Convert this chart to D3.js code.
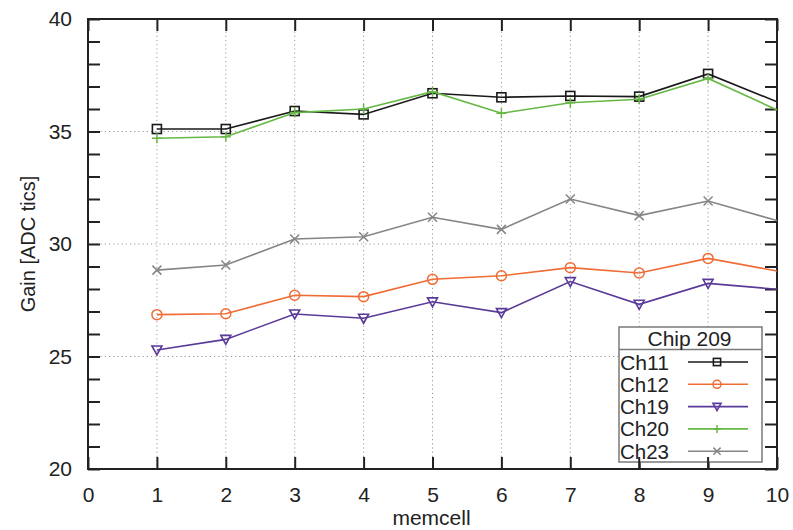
<!DOCTYPE html>
<html>
<head>
<meta charset="utf-8">
<script src="https://cdn.jsdelivr.net/npm/d3@7"></script>
<style>
  body { margin: 0; background: #fff; }
  text { font-family: "Liberation Sans", Arial, sans-serif; fill: #222; }
</style>
</head>
<body>
<div id="holder"></div>
<script>
const w = 793;
const h = 530;

// DATA
const memcell = [1, 2, 3, 4, 5, 6, 7, 8, 9, 10];
const ch11 = [35.11, 35.11, 35.91, 35.76, 36.70, 36.52, 36.58, 36.55, 37.56, 36.32];
const ch12 = [26.86, 26.90, 27.72, 27.66, 28.43, 28.59, 28.95, 28.71, 29.36, 28.80];
const ch19 = [25.29, 25.76, 26.89, 26.70, 27.43, 26.95, 28.33, 27.32, 28.25, 27.99];
const ch20 = [34.70, 34.77, 35.84, 36.00, 36.77, 35.81, 36.28, 36.43, 37.36, 35.96];
const ch23 = [28.84, 29.07, 30.22, 30.32, 31.19, 30.65, 32.00, 31.26, 31.91, 31.04];
const xTicks = [0, 1, 2, 3, 4, 5, 6, 7, 8, 9, 10];
const yTicks = [20, 25, 30, 35, 40];
const legendTitle = "Chip 209";

const series = [
  { name: "Ch11", values: ch11, color: "#1a1a1a", marker: "square" },
  { name: "Ch12", values: ch12, color: "#ef6c35", marker: "circle" },
  { name: "Ch19", values: ch19, color: "#5a3a98", marker: "triangle" },
  { name: "Ch20", values: ch20, color: "#66b845", marker: "plus" },
  { name: "Ch23", values: ch23, color: "#858585", marker: "cross" }
];

// SCALES
const x = d3.scaleLinear().domain([0, 10]).range([88, 777]);
const y = d3.scaleLinear().domain([20, 40]).range([469, 19]);

const svg = d3.select("#holder")
    .append("svg")
    .attr("width", w)
    .attr("height", h);

svg.append("defs").append("clipPath")
    .attr("id", "plot-clip")
    .append("rect")
    .attr("x", x(0)).attr("y", y(40))
    .attr("width", x(10) - x(0)).attr("height", y(20) - y(40));

// GRID
const grid = svg.append("g")
    .attr("stroke", "#9a9a9a")
    .attr("stroke-width", 1)
    .attr("stroke-dasharray", "1.2,3");

grid.selectAll(".vg")
    .data(xTicks.filter(d => d > 0 && d < 10))
    .enter().append("line")
    .attr("x1", d => x(d)).attr("x2", d => x(d))
    .attr("y1", y(40)).attr("y2", y(20));

grid.selectAll(".hg")
    .data(yTicks.filter(d => d > 20 && d < 40))
    .enter().append("line")
    .attr("x1", x(0)).attr("x2", x(10))
    .attr("y1", d => y(d)).attr("y2", d => y(d));

// AXES
const tickLen = 12;
const minorY = d3.range(20, 40.01, 1);

const axisG = svg.append("g");

axisG.append("g")
    .attr("transform", `translate(0,${y(20)})`)
    .call(d3.axisBottom(x).tickValues(xTicks).tickSize(-tickLen).tickPadding(18).tickFormat(d3.format("d")));

axisG.append("g")
    .attr("transform", `translate(0,${y(40)})`)
    .call(d3.axisTop(x).tickValues(xTicks).tickSize(-tickLen).tickFormat(""));

axisG.append("g")
    .attr("transform", `translate(${x(0)},0)`)
    .call(d3.axisLeft(y).tickValues(minorY).tickSize(-tickLen).tickPadding(16)
        .tickFormat(d => d % 5 === 0 ? d : ""));

axisG.append("g")
    .attr("transform", `translate(${x(10)},0)`)
    .call(d3.axisRight(y).tickValues(minorY).tickSize(-tickLen).tickFormat(""));

axisG.selectAll(".domain").remove();
axisG.selectAll(".tick line").attr("stroke", "#222").attr("stroke-width", 2);
axisG.selectAll(".tick text").attr("font-size", 21).attr("fill", "#222");

// frame
svg.append("rect")
    .attr("x", x(0)).attr("y", y(40))
    .attr("width", x(10) - x(0)).attr("height", y(20) - y(40))
    .attr("fill", "none").attr("stroke", "#222").attr("stroke-width", 2);

// axis titles
svg.append("text")
    .attr("x", (x(0) + x(10)) / 2 - 1)
    .attr("y", 525)
    .attr("text-anchor", "middle")
    .attr("font-size", 21)
    .text("memcell");

svg.append("text")
    .attr("transform", `translate(35,${(y(20) + y(40)) / 2}) rotate(-90)`)
    .attr("text-anchor", "middle")
    .attr("font-size", 20)
    .text("Gain [ADC tics]");

// MARKERS
function drawMarker(g, type, color, k) {
  k = k || 1;
  if (type === "square") {
    g.append("rect").attr("x", -4.5 * k).attr("y", -4.5 * k).attr("width", 9 * k).attr("height", 9 * k)
      .attr("fill", "none").attr("stroke", color).attr("stroke-width", 1.6);
  } else if (type === "circle") {
    g.append("circle").attr("r", 5 * k)
      .attr("fill", "none").attr("stroke", color).attr("stroke-width", 1.5);
  } else if (type === "triangle") {
    g.append("path").attr("d", `M${-5 * k},${-4 * k}L${5 * k},${-4 * k}L0,${5 * k}Z`)
      .attr("fill", "none").attr("stroke", color).attr("stroke-width", 1.6);
  } else if (type === "plus") {
    g.append("path").attr("d", `M${-5 * k},0L${5 * k},0M0,${-5 * k}L0,${5 * k}`)
      .attr("stroke", color).attr("stroke-width", 1.5);
  } else if (type === "cross") {
    g.append("path").attr("d", `M${-4.5 * k},${-4.5 * k}L${4.5 * k},${4.5 * k}M${-4.5 * k},${4.5 * k}L${4.5 * k},${-4.5 * k}`)
      .attr("stroke", color).attr("stroke-width", 1.5);
  }
}

// LINES
const line = d3.line()
    .x(d => x(d.x))
    .y(d => y(d.y));

const plot = svg.append("g").attr("clip-path", "url(#plot-clip)");

series.forEach(s => {
  const pts = memcell.map((m, i) => ({ x: m, y: s.values[i] }));
  plot.append("path")
      .datum(pts)
      .attr("fill", "none")
      .attr("stroke", s.color)
      .attr("stroke-width", 1.6)
      .attr("d", line);

  plot.selectAll(null)
      .data(pts.filter(p => p.x < 10))
      .enter().append("g")
      .attr("transform", d => `translate(${x(d.x)},${y(d.y)})`)
      .each(function () { drawMarker(d3.select(this), s.marker, s.color); });
});

// LEGEND
const lg = svg.append("g");
const lx = 619, ly = 327, lw = 143, lh = 135;
lg.append("rect")
    .attr("x", lx).attr("y", ly).attr("width", lw).attr("height", lh)
    .attr("fill", "#fff").attr("stroke", "#7a7a7a").attr("stroke-width", 1.5);
lg.append("line")
    .attr("x1", lx).attr("x2", lx + lw)
    .attr("y1", ly + 22.5).attr("y2", ly + 22.5)
    .attr("stroke", "#7a7a7a").attr("stroke-width", 1.5);
lg.append("text")
    .attr("x", lx + lw / 2 - 1).attr("y", ly + 19)
    .attr("text-anchor", "middle")
    .attr("font-size", 21)
    .text(legendTitle);

series.forEach((s, i) => {
  const cy = 362 + i * 22.3;
  lg.append("text")
      .attr("x", lx + 1).attr("y", cy + 7.5)
      .attr("font-size", 20)
      .attr("textLength", 49)
      .attr("lengthAdjust", "spacingAndGlyphs")
      .text(s.name);
  lg.append("line")
      .attr("x1", 688).attr("x2", 748)
      .attr("y1", cy).attr("y2", cy)
      .attr("stroke", s.color).attr("stroke-width", 1.6);
  drawMarker(lg.append("g").attr("transform", `translate(717,${cy})`), s.marker, s.color, 0.8);
});

// bottom axis ticks drawn over the legend
svg.append("g")
    .selectAll("line")
    .data([8, 9])
    .enter().append("line")
    .attr("x1", d => x(d)).attr("x2", d => x(d))
    .attr("y1", y(20)).attr("y2", y(20) - tickLen)
    .attr("stroke", "#222").attr("stroke-width", 2);
</script>
</body>
</html>
